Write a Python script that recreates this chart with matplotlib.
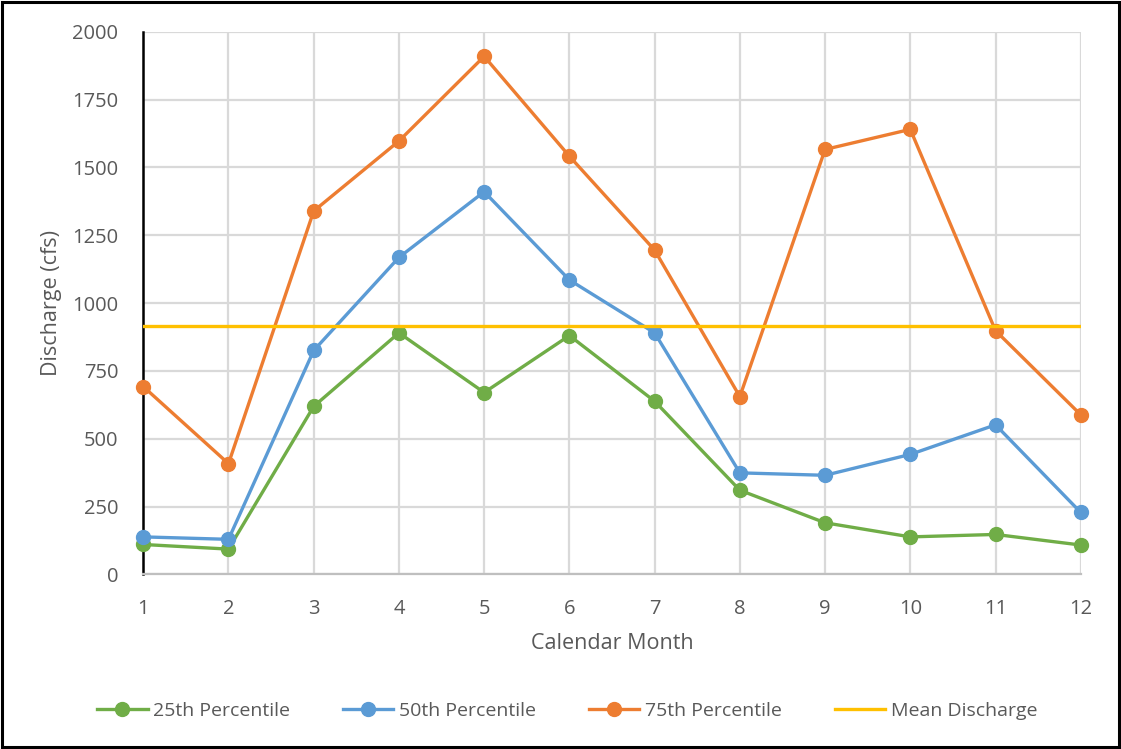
import matplotlib.pyplot as plt
from matplotlib.patches import Rectangle

plt.rcParams['font.family'] = ['Open Sans', 'DejaVu Sans']

months = [1, 2, 3, 4, 5, 6, 7, 8, 9, 10, 11, 12]
p25 = [110, 93, 619, 890, 670, 880, 638, 310, 190, 138, 147, 108]
p50 = [138, 129, 825, 1168, 1410, 1085, 890, 374, 365, 442, 551, 228]
p75 = [692, 408, 1339, 1597, 1909, 1541, 1195, 655, 1566, 1640, 898, 588]
mean_discharge = 915

grey = '#595959'

fig = plt.figure(figsize=(11.21, 7.49), dpi=100)
ax = fig.add_axes([0.1278, 0.2332, 0.8363, 0.7245])

ax.plot(months, p25, color='#70AD47', lw=2.4, marker='o', ms=10, label='25th Percentile', zorder=3, clip_on=False)
ax.plot(months, p50, color='#5B9BD5', lw=2.4, marker='o', ms=10, label='50th Percentile', zorder=3, clip_on=False)
ax.plot(months, p75, color='#ED7D31', lw=2.4, marker='o', ms=10, label='75th Percentile', zorder=3, clip_on=False)
ax.plot([months[0], months[-1]], [mean_discharge, mean_discharge], color='#FFC000', lw=2.4,
        label='Mean Discharge', zorder=4)

ax.set_xlim(1, 12)
ax.set_ylim(0, 2000)
ax.set_xticks(months)
ax.set_yticks(range(0, 2001, 250))
ax.grid(True, color='#d9d9d9', lw=1.6)
ax.set_axisbelow(True)

for s in ['top', 'right']:
    ax.spines[s].set_visible(False)
ax.spines['left'].set_color('black')
ax.spines['left'].set_linewidth(1.8)
ax.spines['bottom'].set_color('#bfbfbf')
ax.spines['bottom'].set_linewidth(1.6)

ax.tick_params(length=0, labelsize=14.5, labelcolor=grey)
ax.tick_params(axis='y', pad=18)
ax.tick_params(axis='x', pad=18)

ax.set_xlabel('Calendar Month', fontsize=15.5, color=grey, labelpad=10)
ax.set_ylabel('Discharge (cfs)', fontsize=15.5, color=grey, labelpad=7)

leg = fig.legend(loc='center', bbox_to_anchor=(0.506, 0.051), ncol=4, frameon=False,
                 fontsize=14, handlelength=2.6, columnspacing=2.7, handletextpad=0.3)
for t in leg.get_texts():
    t.set_color(grey)

fig.patches.append(Rectangle((0.002, 0.003), 0.996, 0.994, transform=fig.transFigure,
                             fill=False, edgecolor='black', lw=2.2))

fig.savefig('out.png', dpi=100)
